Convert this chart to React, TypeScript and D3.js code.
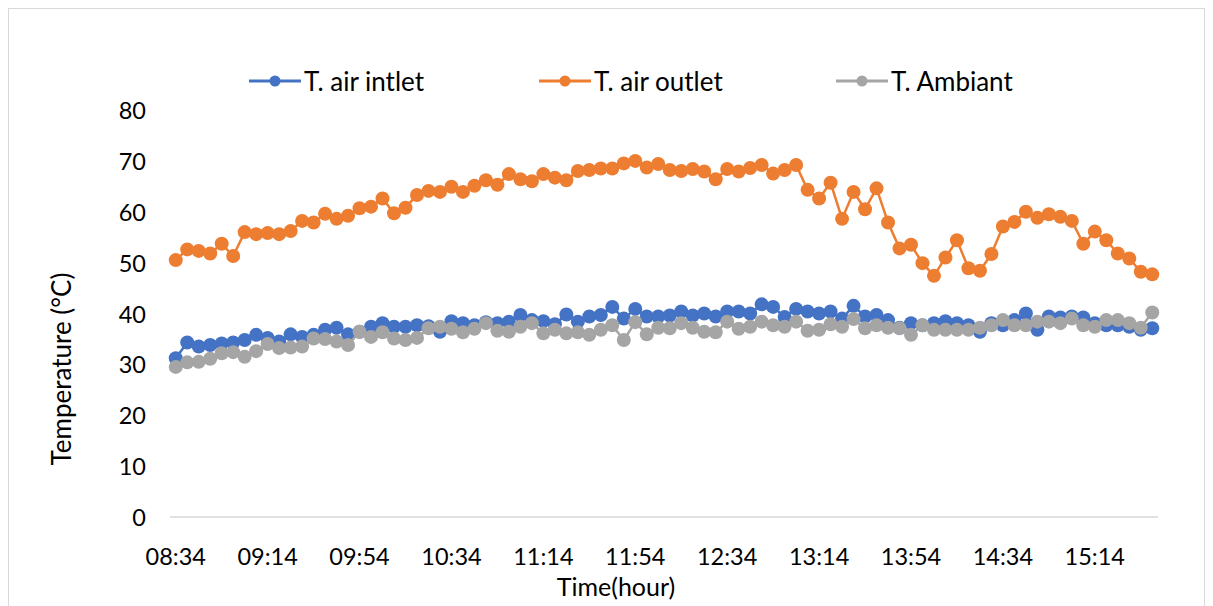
import React from "react";
import * as d3 from "d3";

const tickLabels = ["08:34", "09:14", "09:54", "10:34", "11:14", "11:54", "12:34", "13:14", "13:54", "14:34", "15:14"];
const tickEvery = 8;

const airInlet = [
  31.2, 34.3, 33.5, 33.8, 34.1, 34.3, 34.8, 35.8, 35.2, 34.5,
  35.9, 35.4, 35.8, 36.8, 37.2, 35.9, 36.4, 37.4, 38.1, 37.4,
  37.4, 37.7, 37.5, 36.4, 38.5, 38.1, 37.7, 38.3, 38.1, 38.4,
  39.7, 38.7, 38.5, 37.9, 39.8, 38.4, 39.4, 39.7, 41.3, 39.0,
  40.9, 39.4, 39.4, 39.6, 40.4, 39.6, 40.0, 39.4, 40.4, 40.4,
  40.0, 41.8, 41.3, 39.3, 40.9, 40.4, 40.0, 40.4, 39.0, 41.5,
  39.4, 39.7, 38.7, 37.2, 38.1, 37.7, 38.1, 38.5, 38.1, 37.7,
  36.4, 38.1, 37.7, 38.7, 40.0, 36.8, 39.4, 39.2, 39.4, 39.2,
  38.1, 37.7, 37.7, 37.4, 36.8, 37.1,
];

const airOutlet = [
  50.5, 52.6, 52.3, 51.8, 53.7, 51.3, 56.0, 55.6, 55.8, 55.6,
  56.2, 58.2, 57.9, 59.6, 58.6, 59.2, 60.7, 61.0, 62.6, 59.7,
  60.8, 63.3, 64.1, 63.9, 64.9, 63.9, 65.1, 66.2, 65.3, 67.4,
  66.4, 66.0, 67.4, 66.7, 66.2, 68.0, 68.2, 68.5, 68.5, 69.5,
  70.0, 68.7, 69.4, 68.2, 68.0, 68.4, 67.9, 66.4, 68.4, 67.9,
  68.6, 69.2, 67.5, 68.2, 69.2, 64.3, 62.6, 65.7, 58.6, 63.9,
  60.5, 64.6, 57.9, 52.8, 53.5, 49.9, 47.4, 51.0, 54.4, 48.9,
  48.4, 51.7, 57.1, 58.0, 60.0, 58.8, 59.5, 59.0, 58.2, 53.7,
  56.1, 54.4, 51.8, 50.8, 48.2, 47.7,
];

const ambiant = [
  29.5, 30.4, 30.5, 31.1, 32.2, 32.4, 31.5, 32.6, 34.0, 33.2,
  33.3, 33.5, 35.1, 35.0, 34.5, 33.8, 36.4, 35.4, 36.3, 35.1,
  34.8, 35.2, 37.1, 37.4, 37.0, 36.3, 37.0, 38.1, 36.6, 36.4,
  37.4, 38.1, 36.1, 36.8, 36.1, 36.3, 35.8, 36.8, 37.7, 34.8,
  38.3, 35.9, 37.2, 37.1, 38.1, 37.2, 36.4, 36.3, 38.4, 37.0,
  37.4, 38.4, 37.7, 37.4, 38.4, 36.6, 36.8, 37.9, 37.4, 38.9,
  37.1, 37.7, 37.2, 37.1, 35.8, 37.7, 36.8, 36.8, 36.8, 36.8,
  37.2, 37.7, 38.7, 37.7, 37.7, 38.4, 38.4, 38.1, 39.0, 37.7,
  37.4, 38.7, 38.7, 38.1, 37.2, 40.2,
];

const yTicks = [0, 10, 20, 30, 40, 50, 60, 70, 80];

const series = [
  { name: "T. air intlet", values: airInlet, color: "#4472C4" },
  { name: "T. air outlet", values: airOutlet, color: "#ED7D31" },
  { name: "T. Ambiant", values: ambiant, color: "#A5A5A5" },
];

const FONT = "Lato, 'Open Sans', sans-serif";

export default function App() {
  const W = 1213;
  const H = 606;
  const left = 170;
  const right = 1158;
  const top = 110;
  const bottom = 517;

  const idx = d3.range(airOutlet.length);
  const x = d3.scaleBand<number>().domain(idx).range([left, right]).padding(0);
  const cx = (i: number) => (x(i) as number) + x.bandwidth() / 2;
  const y = d3.scaleLinear().domain([0, 80]).range([bottom, top]);

  const line = d3
    .line<number>()
    .x((_, i) => cx(i))
    .y((d) => y(d));

  const legendItems = [
    { lineX: 249, textX: 304 },
    { lineX: 539, textX: 594 },
    { lineX: 836, textX: 891 },
  ];

  return (
    <svg
      width={W}
      height={H}
      style={{ position: "absolute", left: 0, top: 0, background: "#fff" }}
      fontFamily={FONT}
    >
      <rect x={8.5} y={8.5} width={1196} height={620} fill="#fff" stroke="#d9d9d9" strokeWidth={1} />

      {/* axis line */}
      <line x1={left} x2={right} y1={bottom} y2={bottom} stroke="#d9d9d9" strokeWidth={1.5} />

      {/* y tick labels */}
      {yTicks.map((t) => (
        <text key={t} x={146} y={y(t)} textAnchor="end" dominantBaseline="central" fontSize={23.5} fill="#000">
          {t}
        </text>
      ))}

      {/* x tick labels */}
      {tickLabels.map((lab, k) => (
        <text key={lab} x={cx(k * tickEvery)} y={565} textAnchor="middle" fontSize={23.5} fill="#000">
          {lab}
        </text>
      ))}

      {/* axis titles */}
      <text x={616} y={596} textAnchor="middle" fontSize={25} fill="#000">
        Time(hour)
      </text>
      <text
        transform={`translate(61,369) rotate(-90)`}
        textAnchor="middle"
        dominantBaseline="central"
        fontSize={26}
        fill="#000"
      >
        Temperature (°C)
      </text>

      {/* series */}
      {series.map((s) => (
        <g key={s.name}>
          <path d={line(s.values) || ""} fill="none" stroke={s.color} strokeWidth={2.5} strokeLinejoin="round" />
          {s.values.map((v, i) => (
            <circle key={i} cx={cx(i)} cy={y(v)} r={7} fill={s.color} />
          ))}
        </g>
      ))}

      {/* legend */}
      {series.map((s, k) => (
        <g key={"lg" + s.name}>
          <line
            x1={legendItems[k].lineX}
            x2={legendItems[k].lineX + 52}
            y1={81}
            y2={81}
            stroke={s.color}
            strokeWidth={3}
          />
          <circle cx={legendItems[k].lineX + 26} cy={81} r={5.5} fill={s.color} />
          <text x={legendItems[k].textX} y={81} dominantBaseline="central" fontSize={26} fill="#000">
            {s.name}
          </text>
        </g>
      ))}
    </svg>
  );
}
